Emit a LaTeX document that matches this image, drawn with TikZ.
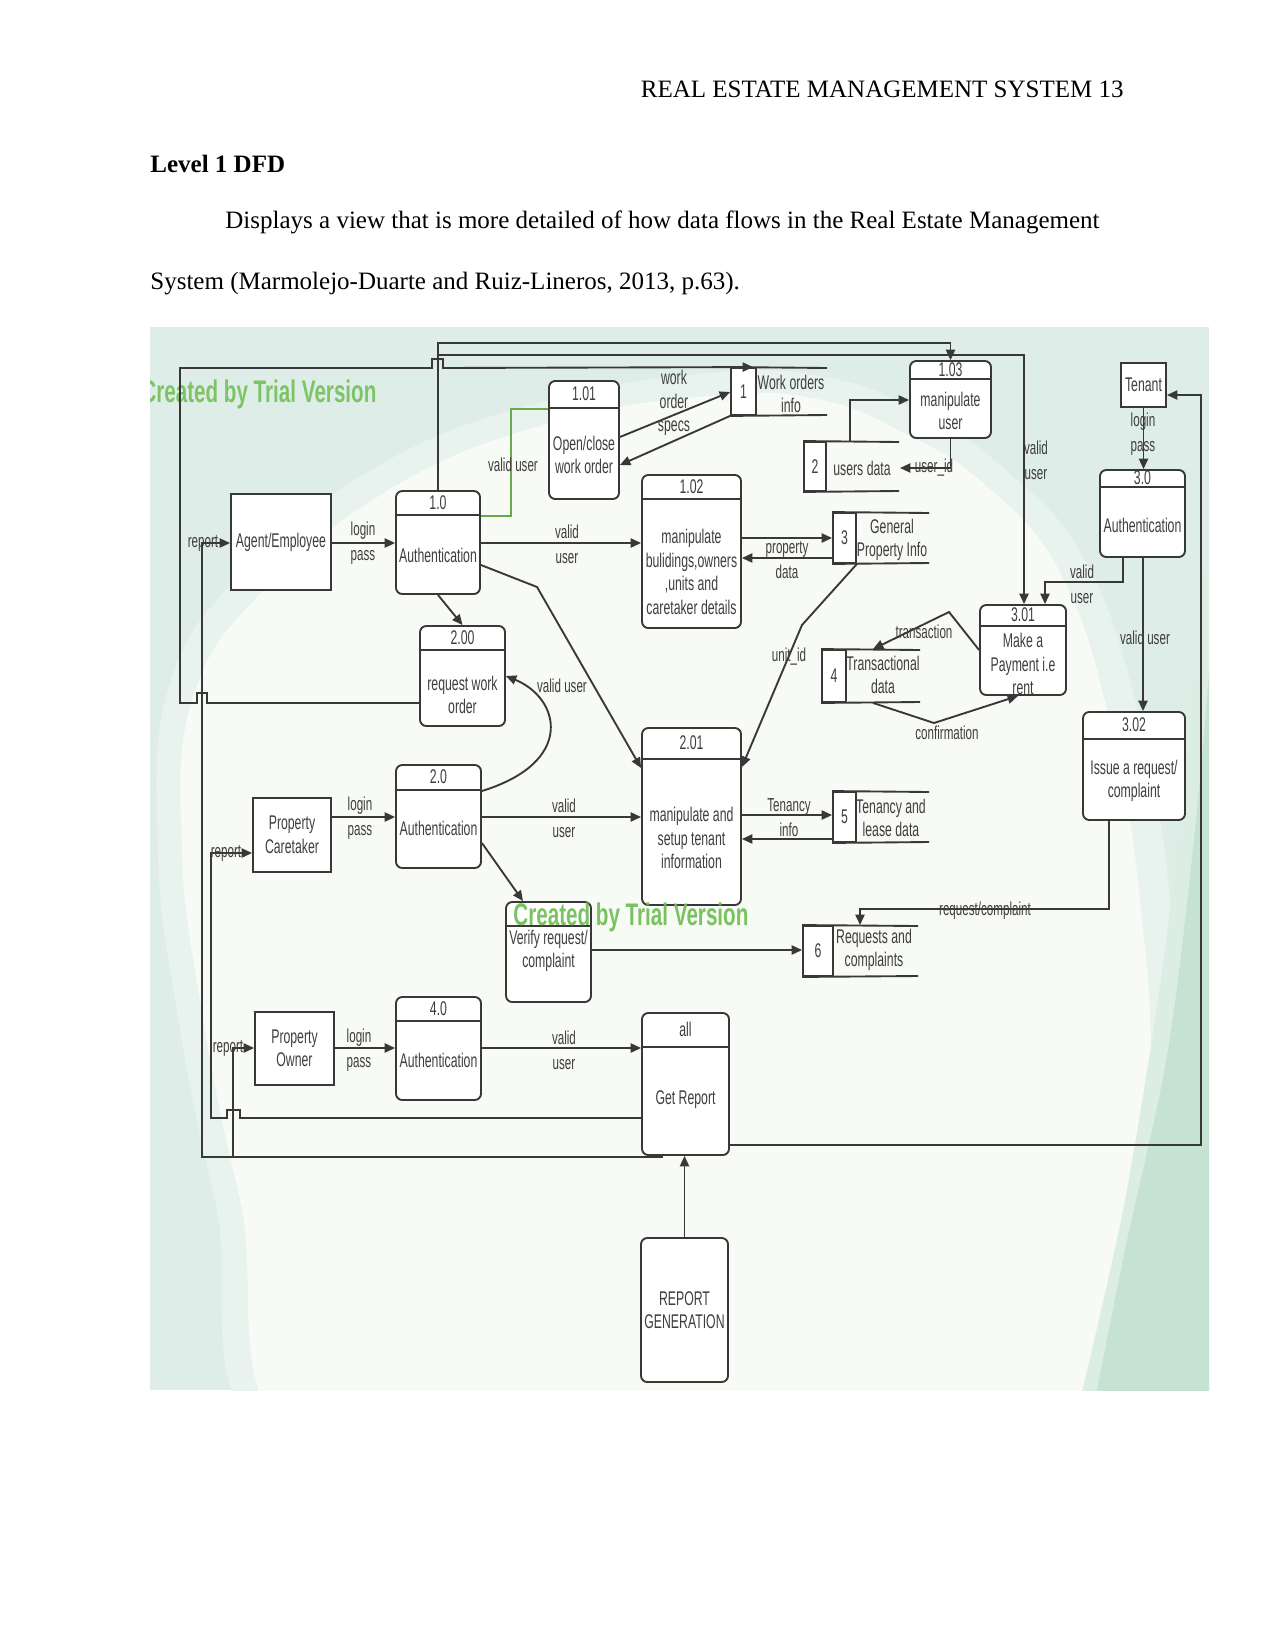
\documentclass[tikz,border=0pt]{standalone}
\usepackage{fontspec}
\setmainfont{Liberation Serif}
\newfontfamily\dfdfont[FakeStretch=0.62]{Liberation Sans}
\newfontfamily\wmkfont[FakeStretch=0.66]{Liberation Sans}
\usetikzlibrary{arrows.meta,calc}
\definecolor{lnc}{HTML}{383838}
\definecolor{tx}{HTML}{3E3E3E}
\definecolor{teal1}{HTML}{DFEDE8}
\definecolor{teal2}{HTML}{E8F2EE}
\definecolor{paper}{HTML}{F8FAF5}
\definecolor{swoosh}{HTML}{C6E2D2}
\definecolor{swoosh2}{HTML}{DCEEE4}
\definecolor{wm}{HTML}{6CBD50}
\definecolor{gl}{HTML}{6BAA4A}

\newcommand{\dfdproc}[7]{%
  \node[proc,minimum width=#4*0.48pt,minimum height=#5*0.48pt] (#1) at (#2,#3) {};
  \draw[ln] ([yshift=-#6*0.48pt]#1.north west) -- ([yshift=-#6*0.48pt]#1.north east);
  \node[lbl] (#1-n) at ([yshift=-#6*0.24pt]#1.north) {#7};
}
\newcommand{\dfdstore}[7]{%
  \node[sbox,minimum width=(#3-#2)*0.48pt,minimum height=(#5-#4)*0.48pt] (#1) at ({(#2+#3)/2},{(#4+#5)/2}) {#7};
  \draw[ln] (#1.north west) -- (#6,#4);
  \draw[ln] (#1.south west) -- (#6,#5);
}

\begin{document}
\begin{tikzpicture}[x=0.48pt,y=-0.48pt,
  ln/.style={draw=lnc,line width=0.9pt},
  arr/.style={ln,-{Triangle[length=5pt,width=4.4pt]}},
  proc/.style={ln,fill=white,rounded corners=3pt,rectangle,inner sep=0pt},
  ext/.style={ln,fill=white,rectangle,inner sep=0pt},
  lbl/.style={font=\dfdfont\fontsize{9.5}{11.3}\selectfont,text=tx,inner sep=0pt,align=center},
  sbox/.style={ln,fill=white,rectangle,inner sep=0pt,font=\dfdfont\fontsize{9.5}{11}\selectfont,text=tx},
  flbl/.style={font=\dfdfont\fontsize{9}{12}\selectfont,text=tx,inner sep=0pt,align=center},
  wmk/.style={font=\wmkfont\bfseries\fontsize{15}{17}\selectfont,text=wm,inner sep=0pt,anchor=base west},
]
\useasboundingbox (0,0) rectangle (1275,1651);
\fill[white] (0,0) rectangle (1275,1651);

% page text
\node[anchor=base east,inner sep=0pt,font=\fontsize{12}{14}\selectfont] (hdr) at (1124,98) {REAL ESTATE MANAGEMENT SYSTEM 13};
\node[anchor=base west,inner sep=0pt,font=\bfseries\fontsize{12}{14}\selectfont] (ttl) at (150,173) {Level 1 DFD};
\node[anchor=base west,inner sep=0pt,font=\fontsize{12}{14}\selectfont] (par1) at (225,229) {Displays a view that is more detailed of how data flows in the Real Estate Management};
\node[anchor=base west,inner sep=0pt,font=\fontsize{12}{14}\selectfont] (par2) at (150,290) {System (Marmolejo-Duarte and Ruiz-Lineros, 2013, p.63).};

% background of the figure
\begin{scope}
\clip (150,327) rectangle (1209,1390);
\fill[teal1] (150,327) rectangle (1209,1390);
\fill[teal2] plot[smooth cycle,tension=0.7] coordinates {(285,1460) (215,1200) (175,1000) (158,850) (168,690) (240,575) (385,462) (550,400) (720,372) (830,378) (915,410) (1000,465) (1085,560) (1140,720) (1170,900) (1178,1100) (1150,1300) (1120,1460) (700,1520)};
\fill[paper] plot[smooth cycle,tension=0.7] coordinates {(310,1460) (240,1200) (200,1000) (182,850) (192,700) (262,592) (402,482) (562,420) (722,395) (822,400) (902,432) (982,482) (1060,572) (1110,722) (1140,900) (1150,1100) (1122,1300) (1092,1460) (700,1520)};
\fill[swoosh2] plot[smooth] coordinates {(1215,420) (1192,700) (1165,950) (1125,1200) (1080,1400)} -- (1215,1400) -- cycle;
\fill[swoosh] plot[smooth] coordinates {(1215,600) (1196,820) (1168,1050) (1125,1250) (1095,1400)} -- (1215,1400) -- cycle;
\node[wmk,opacity=0.85] (wm1) at (141,402) {Created by Trial Version};
\end{scope}

% external entities
\node[ext,lbl,minimum width=100*0.48pt,minimum height=96*0.48pt] (eA) at (281,542) {Agent/Employee};
\node[ext,lbl,minimum width=78*0.48pt,minimum height=74*0.48pt] (eB) at (292,835) {Property\\Caretaker};
\node[ext,lbl,minimum width=79*0.48pt,minimum height=73*0.48pt] (eC) at (294.5,1048.5) {Property\\Owner};
\node[ext,lbl,minimum width=45*0.48pt,minimum height=44*0.48pt] (eD) at (1143.5,385) {Tenant};

% processes
\dfdproc{pA}{438}{542.5}{84}{103}{25}{1.0}
\node[lbl] (pA-t) at (438,555) {Authentication};
\dfdproc{pB}{584}{440}{70}{118}{28}{1.01}
\node[lbl] (pB-t) at (584,455) {Open/close\\work order};
\dfdproc{pC}{691.5}{551.5}{99}{153}{25}{1.02}
\node[lbl] (pC-t) at (691.5,572) {manipulate\\bulidings,owners\\,units and\\caretaker details};
\dfdproc{pD}{950.5}{399.5}{81}{77}{19}{1.03}
\node[lbl] (pD-t) at (950.5,411) {manipulate\\user};
\dfdproc{pE}{462.5}{676}{85}{100}{25}{2.00}
\node[lbl] (pE-t) at (462.5,695) {request work\\order};
\dfdproc{pF}{438.5}{816.5}{85}{103}{26}{2.0}
\node[lbl] (pF-t) at (438.5,828) {Authentication};
\dfdproc{pG}{691.5}{816.5}{99}{177}{32}{2.01}
\node[lbl] (pG-t) at (691.5,838) {manipulate and\\setup tenant\\information};
\dfdproc{pH}{548.5}{952}{85}{100}{25}{}
\node[lbl] (pH-t) at (548.5,951) {Verify request/\\complaint};
\dfdproc{pI}{438.5}{1048.5}{85}{103}{25}{4.0}
\node[lbl] (pI-t) at (438.5,1060) {Authentication};
\dfdproc{pJ}{685.5}{1084}{87}{142}{35}{all}
\node[lbl] (pJ-t) at (685.5,1100) {Get Report};
\node[proc,lbl,minimum width=87*0.48pt,minimum height=144*0.48pt] (pK) at (684.5,1310) {REPORT\\GENERATION};
\dfdproc{pL}{1142.5}{513.5}{85}{87}{18}{3.0}
\node[lbl] (pL-t) at (1142.5,525) {Authentication};
\dfdproc{pM}{1023}{650}{86}{90}{22}{3.01}
\node[lbl] (pM-t) at (1023,664) {Make a\\Payment i.e\\rent};
\dfdproc{pN}{1134}{766}{102}{108}{28}{3.02}
\node[lbl] (pN-t) at (1134,781) {Issue a request/\\complaint};

% data stores
\dfdstore{sA}{731}{756}{368}{415}{827}{1}
\node[lbl] (sA-t) at (791,394) {Work orders\\info};
\dfdstore{sB}{804}{826}{442}{491}{899}{2}
\node[lbl] (sB-t) at (862,468) {users data};
\dfdstore{sC}{833}{856}{513}{563}{929}{3}
\node[lbl] (sC-t) at (892,540) {General\\Property Info};
\dfdstore{sD}{822}{846}{650}{702}{920}{4}
\node[lbl] (sD-t) at (883,675) {Transactional\\data};
\dfdstore{sE}{833}{856}{792}{842}{929}{5}
\node[lbl] (sE-t) at (891,818) {Tenancy and\\lease data};
\dfdstore{sF}{803}{833}{926}{976}{918}{6}
\node[lbl] (sF-t) at (874,950) {Requests and\\complaints};

% coordinates for free ends
\coordinate (sBr) at (900,468);
\coordinate (rj) at (663,1157);
\coordinate (rj2) at (233,1157);

% flows: agent / employee
\draw[arr] (eA.east |- 0,543) -- (pA.west |- 0,543);
\node[flbl] at (363,543) {login\\pass};
\draw[arr] (pA.east |- 0,543) -- (pC.west |- 0,543);
\node[flbl] at (567,544) {valid\\user};
\draw[draw=gl,line width=0.8pt] (pA.east |- 0,516) -- (511,516) -- (511,409) -- (pB.west |- 0,409);
\node[flbl] at (513,465) {valid user};
\draw[arr] (pB.east |- 0,437) -- (sA.west |- 0,392);
\draw[arr] (sA.south west) -- (pB.east |- 0,465);
\node[lbl] at (674,403) {work\\order\\specs};
\draw[arr] (pA.south) -- (pE.north);
\draw[arr] (pA.east |- 0,565) -- (537,587) -- (pG.west |- 0,768);
\draw[arr] (pA.north) -- (pA.north |- 0,343) -- (pD.north |- 0,343) -- (pD.north);
\draw[arr] (pA.north |- 0,355) -- (1024,355) -- (pM.north -| 1024,0);
\node[flbl] at (1036,460) {valid\\user};
\draw[arr] (pE.west |- 0,703) -- (207,703) -- (207,693) -- (197,693) -- (197,703) -- (180,703) -- (180,368) -- (432,368) -- (432,359) -- (443,359) -- (443,368) -- (sA.north west -| 753,0);
\draw[arr] (sB.north -| 850,0) -- (850,400) -- (pD.west |- 0,400);
\draw[arr] (pD.south) -- (pD.south |- sBr) -- (sBr);
\node[flbl] at (934,468) {user\_id};
\draw[arr] (pC.east |- 0,538) -- (sC.west |- 0,538);
\draw[arr] (sC.west |- 0,558) -- (pC.east |- 0,558);
\node[flbl] at (787,560) {property\\data};
\draw[arr] (sC.south east) -- (802,625) -- (pG.east |- 0,767);
\node[flbl] at (789,657) {unit\_id};

% caretaker
\draw[arr] (pF.east |- 0,791) .. controls (576,762) and (560,698) .. (pE.east |- 0,676);
\node[flbl] at (562,686) {valid user};
\draw[arr] (eB.east |- 0,817) -- (pF.west |- 0,817);
\node[flbl] at (360,818) {login\\pass};
\draw[arr] (pF.east |- 0,817) -- (pG.west |- 0,817);
\node[flbl] at (564,818) {valid\\user};
\draw[arr] (pF.east |- 0,843) -- (pH.north -| 523,0);
\draw[arr] (pH.east |- 0,950) -- (sF.west |- 0,950);
\draw[arr] (pG.east |- 0,815) -- (sE.west |- 0,815);
\draw[arr] (sE.west |- 0,839) -- (pG.east |- 0,839);
\node[flbl] at (789,818) {Tenancy\\info};

% owner and reports
\draw[arr] (eC.east |- 0,1048) -- (pI.west |- 0,1048);
\node[flbl] at (359,1050) {login\\pass};
\draw[arr] (pI.east |- 0,1048) -- (pJ.west |- 0,1048);
\node[flbl] at (564,1050) {valid\\user};
\draw[arr] (pK.north) -- (pK.north |- pJ.south);
\draw[arr] (pJ.east |- 0,1145) -- (1201,1145) -- (1201,395) -- (eD.east |- 0,395);
\draw[arr] (pJ.west |- 0,1118) -- (240,1118) -- (240,1110) -- (227,1110) -- (227,1118) -- (211,1118) -- (211,853) -- (eB.west |- 0,853);
\node[flbl] at (226,853) {report};
\draw[arr] (rj) -- (202,1157) -- (202,543) -- (eA.west |- 0,543);
\node[flbl] at (203,543) {report};
\draw[arr] (rj2) -- (rj2 |- 0,1048) -- (eC.west |- 0,1048);
\node[flbl] at (228,1048) {report};

% tenant
\draw[arr] (eD.south) -- (eD.south |- pL.north);
\node[flbl] at (1143,434) {login\\pass};
\draw[arr] (pL.south -| 1123,0) -- (1123,582) -- (1045,582) -- (pM.north -| 1045,0);
\node[flbl] at (1082,584) {valid\\user};
\draw[arr] (pL.south -| 1143,0) -- (pN.north -| 1143,0);
\node[flbl] at (1145,638) {valid user};
\draw[arr] (pM.west |- 0,650) -- (949,612) -- (sD.north -| 873,0);
\node[flbl] at (924,632) {transaction};
\draw[arr] (sD.south -| 873,0) -- (934,723) -- (pM.south -| 1018,0);
\node[flbl] at (947,733) {confirmation};
\draw[arr] (pN.south -| 1109,0) -- (1109,909) -- (860,909) -- (sF.north -| 860,0);
\node[flbl] at (985,911) {request/complaint};

% second watermark
\node[wmk,opacity=0.9] (wm2) at (513,925) {Created by Trial Version};
\end{tikzpicture}
\end{document}
